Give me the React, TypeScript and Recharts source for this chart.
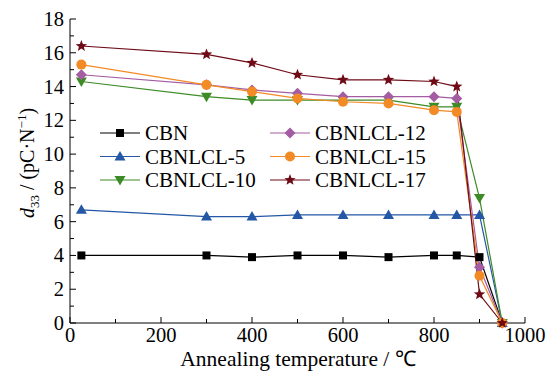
import { LineChart, Line, XAxis, YAxis } from "recharts";

const temps = [25, 300, 400, 500, 600, 700, 800, 850, 900, 950];
const cbn = [4.0, 4.0, 3.9, 4.0, 4.0, 3.9, 4.0, 4.0, 3.9, 0];
const cl5 = [6.7, 6.3, 6.3, 6.4, 6.4, 6.4, 6.4, 6.4, 6.4, 0];
const cl10 = [14.3, 13.4, 13.2, 13.2, 13.2, 13.2, 12.8, 12.8, 7.4, 0];
const cl12 = [14.7, 14.1, 13.8, 13.6, 13.4, 13.4, 13.4, 13.3, 3.3, 0];
const cl15 = [15.3, 14.1, 13.7, 13.3, 13.1, 13.0, 12.6, 12.5, 2.8, 0];
const cl17 = [16.4, 15.9, 15.4, 14.7, 14.4, 14.4, 14.3, 14.0, 1.7, 0];

const xTicks = [0, 100, 200, 300, 400, 500, 600, 700, 800, 900, 1000];
const yTicks = [0, 1, 2, 3, 4, 5, 6, 7, 8, 9, 10, 11, 12, 13, 14, 15, 16, 17, 18];

const FONT = "Liberation Serif";

const series = [
  { key: "cbn", name: "CBN", values: cbn, color: "#000000", shape: "square" },
  { key: "cl5", name: "CBNLCL-5", values: cl5, color: "#2457a6", shape: "up" },
  { key: "cl10", name: "CBNLCL-10", values: cl10, color: "#3d8b26", shape: "down" },
  { key: "cl12", name: "CBNLCL-12", values: cl12, color: "#a45ca2", shape: "diamond" },
  { key: "cl15", name: "CBNLCL-15", values: cl15, color: "#f28a26", shape: "circle" },
  { key: "cl17", name: "CBNLCL-17", values: cl17, color: "#6e0b16", shape: "star" },
];

const data = temps.map((t, i) => {
  const row: Record<string, number> = { t };
  series.forEach((s) => (row[s.key] = s.values[i]));
  return row;
});

function marker(shape: string, cx: number, cy: number, color: string, key?: string) {
  if (cx == null || cy == null) return <g key={key} />;
  switch (shape) {
    case "square":
      return <rect key={key} x={cx - 4} y={cy - 4} width={8} height={8} fill={color} />;
    case "up":
      return <polygon key={key} points={`${cx},${cy - 5.5} ${cx + 5.5},${cy + 4} ${cx - 5.5},${cy + 4}`} fill={color} />;
    case "down":
      return <polygon key={key} points={`${cx},${cy + 5.5} ${cx + 5.5},${cy - 4} ${cx - 5.5},${cy - 4}`} fill={color} />;
    case "diamond":
      return <polygon key={key} points={`${cx},${cy - 5.5} ${cx + 5.5},${cy} ${cx},${cy + 5.5} ${cx - 5.5},${cy}`} fill={color} />;
    case "circle":
      return <circle key={key} cx={cx} cy={cy} r={5} fill={color} />;
    default: {
      const pts: string[] = [];
      for (let k = 0; k < 10; k++) {
        const r = k % 2 === 0 ? 6 : 2.6;
        const a = -Math.PI / 2 + (k * Math.PI) / 5;
        pts.push(`${cx + r * Math.cos(a)},${cy + r * Math.sin(a)}`);
      }
      return <polygon key={key} points={pts.join(" ")} fill={color} />;
    }
  }
}

const XTick = ({ x, y, payload }: any) => {
  const major = payload.value % 200 === 0;
  return (
    <g>
      <line x1={x} x2={x} y1={y} y2={y - (major ? 6 : 4)} stroke="#000" />
      {major && (
        <text x={x} y={y + 19} textAnchor="middle" fontSize={20.5} fontFamily={FONT} fill="#000">
          {payload.value}
        </text>
      )}
    </g>
  );
};

const YTick = ({ x, y, payload }: any) => {
  const major = payload.value % 2 === 0;
  return (
    <g>
      <line x1={x} x2={x + (major ? 6 : 4)} y1={y} y2={y} stroke="#000" />
      {major && (
        <text x={x - 6} y={y + 7} textAnchor="end" fontSize={20.5} fontFamily={FONT} fill="#000">
          {payload.value}
        </text>
      )}
    </g>
  );
};

// two-column legend drawn in an overlay, placed inside the plot
const LegendBox = () => {
  const cols = [
    { x0: 100, items: series.slice(0, 3) },
    { x0: 270, items: series.slice(3) },
  ];
  return (
    <g>
      {cols.map((c) =>
        c.items.map((s, i) => {
          const y = 133 + i * 23.5;
          return (
            <g key={s.key}>
              <line x1={c.x0} x2={c.x0 + 40} y1={y} y2={y} stroke={s.color} strokeWidth={1.2} />
              {marker(s.shape, c.x0 + 20, y, s.color)}
              <text x={c.x0 + 45} y={y + 7} fontSize={21} fontFamily={FONT} fill="#000">
                {s.name}
              </text>
            </g>
          );
        })
      )}
    </g>
  );
};

const YLabel = () => (
  <text transform="translate(34,163) rotate(-90)" textAnchor="middle" fontSize={20} fontFamily={FONT} fill="#000">
    <tspan fontStyle="italic">d</tspan>
    <tspan fontSize={13} dy={5}>33</tspan>
    <tspan dy={-5}> / (pC·N</tspan>
    <tspan fontSize={13} dy={-8}>−1</tspan>
    <tspan dy={8}>)</tspan>
  </text>
);

export default function App() {
  return (
    <div style={{ position: "absolute", left: 0, top: 0, width: 555, height: 372, background: "#fff", fontFamily: FONT }}>
      <LineChart width={555} height={372} data={data} margin={{ top: 19, right: 30, left: 0, bottom: 0 }}>
        <XAxis
          xAxisId="b"
          dataKey="t"
          type="number"
          domain={[0, 1000]}
          ticks={xTicks}
          interval={0}
          height={49}
          tickSize={0}
          tickMargin={0}
          tickLine={false}
          axisLine={{ stroke: "#000" }}
          tick={<XTick />}
        />
        <XAxis xAxisId="top" orientation="top" type="number" domain={[0, 1000]} height={0} tick={false} tickLine={false} axisLine={{ stroke: "#000" }} />
        <YAxis
          yAxisId="l"
          type="number"
          domain={[0, 18]}
          ticks={yTicks}
          interval={0}
          width={70}
          tickSize={0}
          tickMargin={0}
          tickLine={false}
          axisLine={{ stroke: "#000" }}
          tick={<YTick />}
        />
        <YAxis yAxisId="r" orientation="right" type="number" domain={[0, 18]} width={0} tick={false} tickLine={false} axisLine={{ stroke: "#000" }} />
        {series.map((s) => (
          <Line
            key={s.key}
            xAxisId="b"
            yAxisId="l"
            dataKey={s.key}
            name={s.name}
            stroke={s.color}
            strokeWidth={1.2}
            isAnimationActive={false}
            dot={(p: any) => marker(s.shape, p.cx, p.cy, s.color, `${s.key}-${p.index}`)}
            activeDot={false}
          />
        ))}
      </LineChart>
      <svg width={555} height={372} style={{ position: "absolute", left: 0, top: 0, pointerEvents: "none" }}>
        <LegendBox />
        <YLabel />
        <text x={298} y={366} textAnchor="middle" fontSize={21.5} fontFamily={FONT} fill="#000">
          Annealing temperature / ℃
        </text>
      </svg>
    </div>
  );
}
